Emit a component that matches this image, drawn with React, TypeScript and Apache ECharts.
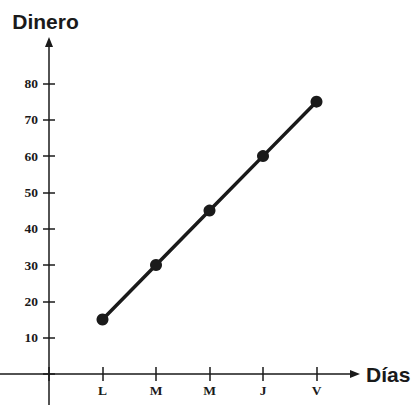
import React, { useEffect, useRef } from "react";
import * as echarts from "echarts";

const days = ["L", "M", "M", "J", "V"];
const dinero = [15, 30, 45, 60, 75];
const yMin = 0;
const yMax = 80;
const yStep = 10;
const xTitle = "Días";
const yTitle = "Dinero";

const INK = "#1a1a1a";

export default function App() {
  const ref = useRef<HTMLDivElement>(null);
  useEffect(() => {
    if (!ref.current) return;
    const chart = echarts.init(ref.current, undefined, { renderer: "svg" });
    const labelFont = {
      fontFamily: "Liberation Serif",
      fontWeight: "bold" as const,
      fontSize: 13.5,
      color: INK,
    };
    const tickStyle = { color: INK, width: 1.5 };
    chart.setOption({
      animation: false,
      backgroundColor: "#ffffff",
      grid: [
        // data grid: x index 0..5, y 0..80
        { left: 49, top: 83.5, width: 267.5, height: 290.5 },
        // frame grid for the crossing axes with arrows
        { left: 0, top: 42, width: 355, height: 363 },
      ],
      xAxis: [
        {
          gridIndex: 0,
          type: "value",
          position: "bottom",
          min: 0,
          max: days.length,
          interval: 1,
          axisLine: { show: false },
          splitLine: { show: false },
          axisTick: { show: true, inside: false, length: 7, lineStyle: tickStyle },
          axisLabel: {
            ...labelFont,
            margin: 9,
            formatter: (v: number) => (v >= 1 && v <= days.length ? days[v - 1] : ""),
          },
        },
        {
          gridIndex: 0,
          type: "value",
          position: "bottom",
          min: 0,
          max: days.length,
          interval: 1,
          axisLine: { show: false },
          splitLine: { show: false },
          axisTick: { show: true, inside: true, length: 7, lineStyle: tickStyle },
          axisLabel: { show: false },
        },
        {
          gridIndex: 1,
          type: "value",
          min: -49,
          max: 306,
          axisLine: {
            show: true,
            onZero: true,
            symbol: ["none", "triangle"],
            symbolSize: [8, 10],
            lineStyle: { color: INK, width: 1.5 },
          },
          axisTick: { show: false },
          axisLabel: { show: false },
          splitLine: { show: false },
          name: xTitle,
          nameLocation: "end",
          nameGap: 11,
          nameTextStyle: {
            fontFamily: "Liberation Sans",
            fontWeight: "bold",
            fontSize: 21,
            color: INK,
            verticalAlign: "middle",
            padding: [8, 0, 0, 0],
          },
        },
      ],
      yAxis: [
        {
          gridIndex: 0,
          type: "value",
          position: "left",
          min: yMin,
          max: yMax,
          interval: yStep,
          axisLine: { show: false },
          splitLine: { show: false },
          axisTick: { show: true, inside: false, length: 6, lineStyle: tickStyle },
          axisLabel: {
            ...labelFont,
            margin: 11,
            formatter: (v: number) => (v === 0 ? "" : String(v)),
          },
        },
        {
          gridIndex: 0,
          type: "value",
          position: "left",
          min: yMin,
          max: yMax,
          interval: yStep,
          axisLine: { show: false },
          splitLine: { show: false },
          axisTick: { show: true, inside: true, length: 6, lineStyle: tickStyle },
          axisLabel: { show: false },
        },
        {
          gridIndex: 1,
          type: "value",
          min: -31,
          max: 332,
          axisLine: {
            show: true,
            onZero: true,
            symbol: ["none", "triangle"],
            symbolSize: [8, 10],
            lineStyle: { color: INK, width: 1.5 },
          },
          axisTick: { show: false },
          axisLabel: { show: false },
          splitLine: { show: false },
          name: yTitle,
          nameLocation: "end",
          nameGap: 10,
          nameTextStyle: {
            fontFamily: "Liberation Sans",
            fontWeight: "bold",
            fontSize: 21,
            color: INK,
            align: "center",
            padding: [0, 7, 0, 0],
          },
        },
      ],
      series: [
        {
          type: "line",
          xAxisIndex: 0,
          yAxisIndex: 0,
          data: dinero.map((v, i) => [i + 1, v]),
          symbol: "circle",
          symbolSize: 12,
          showSymbol: true,
          lineStyle: { color: INK, width: 3.5 },
          itemStyle: { color: INK },
          z: 5,
        },
      ],
    });
    return () => chart.dispose();
  }, []);
  return (
    <div
      ref={ref}
      style={{ position: "fixed", left: 0, top: 0, width: 415, height: 405, background: "#fff" }}
    />
  );
}
